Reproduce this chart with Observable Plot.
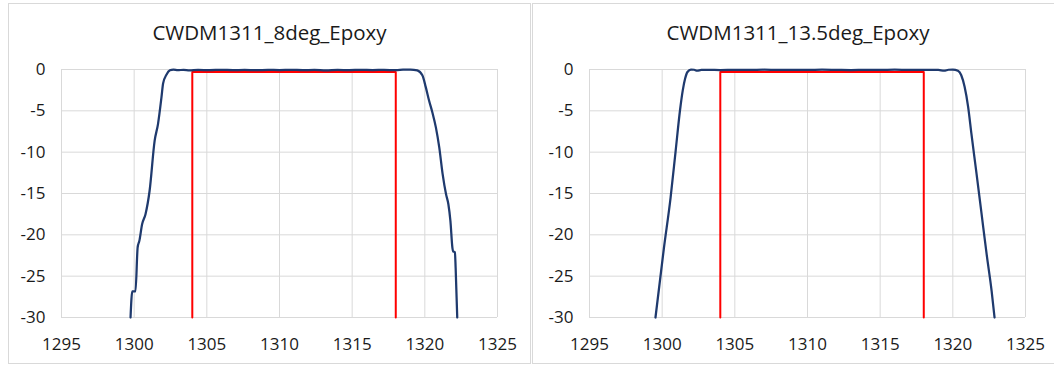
<!DOCTYPE html>
<html>
<head>
<meta charset="utf-8">
<script src="https://cdn.jsdelivr.net/npm/d3@7"></script>
<script src="https://cdn.jsdelivr.net/npm/@observablehq/plot@0.6"></script>
<style>
  html, body { margin: 0; padding: 0; background: #fff; }
  body { width: 1054px; height: 365px; position: relative; overflow: hidden; font-family: "Open Sans", "Liberation Sans", sans-serif; }
  .panel { position: absolute; top: 3px; height: 359px; border: 1px solid #d9d9d9; background: #fff; }
  .title { height: 32px; padding-top: 12px; line-height: 32px; text-align: center; font-size: 20.5px; color: #1a1a1a; white-space: nowrap; }
  .panel svg { display: block; }
</style>
</head>
<body>
<div id="p1" class="panel" style="left:8px; width:521px;"></div>
<div id="p2" class="panel" style="left:532px; width:530px;"></div>
<script>
// Chart titles
const titleA = "CWDM1311_8deg_Epoxy";
const titleB = "CWDM1311_13.5deg_Epoxy";

// Axis ticks
const xTicks = [1295, 1300, 1305, 1310, 1315, 1320, 1325];
const yTicks = [-30, -25, -20, -15, -10, -5, 0];

// 8 deg filter: wavelength (nm) and insertion loss (dB)
const wlA = [1299.75, 1299.87, 1300.09, 1300.24, 1300.36, 1300.55, 1300.78, 1301.06, 1301.41, 1301.64,
  1301.88, 1301.99, 1302.23, 1302.46, 1302.7, 1303.0, 1303.4, 1303.8, 1304.4, 1305.2,
  1306.0, 1306.8, 1307.6, 1308.4, 1309.2, 1310.0, 1310.8, 1311.6, 1312.4, 1313.2,
  1314.0, 1314.8, 1315.6, 1316.4, 1317.2, 1318.0, 1318.5, 1319.01, 1319.48, 1319.83,
  1320.06, 1320.29, 1320.52, 1320.76, 1320.99, 1321.22, 1321.46, 1321.62, 1321.76, 1321.9,
  1321.95, 1322.07, 1322.12, 1322.23];
const ilA = [-30, -26.85, -26.85, -21.5, -20.7, -18.7, -17.5, -14.7, -8.6, -6.6,
  -3.35, -1.7, -0.6, -0.1, 0, -0.08, -0.04, -0.1, -0.05, -0.08,
  -0.04, -0.08, -0.05, -0.09, -0.04, -0.07, -0.04, -0.08, -0.05, -0.1,
  -0.05, -0.08, -0.04, -0.07, -0.05, -0.08, -0.02, 0, -0.1, -0.7,
  -2.1, -3.75, -5.2, -7.0, -9.4, -12.6, -15.1, -16.3, -18.3, -21.6,
  -22.0, -22.1, -24.0, -30];

// 13.5 deg filter: wavelength (nm) and insertion loss (dB)
const wlB = [1299.54, 1300.12, 1300.58, 1300.93, 1301.23, 1301.42, 1301.58, 1301.74, 1301.98, 1302.2,
  1302.4, 1302.7, 1303.2, 1304.0, 1305.0, 1306.0, 1307.0, 1308.0, 1309.0, 1310.0,
  1311.0, 1312.0, 1313.0, 1314.0, 1315.0, 1316.0, 1317.0, 1318.0, 1319.0, 1319.4,
  1319.7, 1320.0, 1320.35, 1320.58, 1320.81, 1321.05, 1321.28, 1321.63, 1321.98, 1322.33,
  1322.67, 1322.87];
const ilB = [-30, -21.6, -15.5, -9.8, -4.9, -2.5, -1.1, -0.3, 0, -0.03,
  -0.15, -0.05, -0.04, -0.07, -0.04, -0.06, -0.03, -0.05, -0.04, -0.06,
  -0.03, -0.05, -0.07, -0.04, -0.05, -0.03, -0.06, -0.04, -0.05, -0.15,
  -0.03, 0, -0.15, -0.7, -2.1, -4.5, -7.8, -12.6, -17.5, -22.4,
  -26.8, -30];

// Pass-band mask (red)
const maskWl = [1304, 1304, 1318, 1318];
const maskIl = [-30, -0.3, -0.3, -30];

const plain = d => String(d);

function chart(wl, il, width, marginLeft, marginRight) {
  const curve = wl.map((x, i) => ({x, y: il[i]}));
  const mask = maskWl.map((x, i) => ({x, y: maskIl[i]}));
  return Plot.plot({
    width,
    height: 315,
    marginTop: 21,
    marginBottom: 46,
    marginLeft,
    marginRight,
    style: {fontFamily: "'Open Sans', 'Liberation Sans', sans-serif", fontSize: "17px", color: "#1a1a1a", background: "#fff"},
    x: {domain: [1295, 1325], label: null},
    y: {domain: [-30, 0], label: null},
    marks: [
      Plot.gridX(xTicks, {stroke: "#d9d9d9", strokeOpacity: 1, strokeWidth: 1}),
      Plot.gridY(yTicks, {stroke: "#d9d9d9", strokeOpacity: 1, strokeWidth: 1}),
      Plot.axisX({ticks: xTicks, tickFormat: plain, tickSize: 0, tickPadding: 20, fill: "#1a1a1a"}),
      Plot.axisY({ticks: yTicks, tickFormat: plain, tickSize: 0, tickPadding: 16, fill: "#1a1a1a"}),
      Plot.line(mask, {x: "x", y: "y", stroke: "#ff0000", strokeWidth: 2}),
      Plot.line(curve, {x: "x", y: "y", stroke: "#1f3a6e", strokeWidth: 2.25, curve: "monotone-x"})
    ]
  });
}

function panel(id, title, wl, il, width, marginLeft, marginRight) {
  const el = document.getElementById(id);
  const t = document.createElement("div");
  t.className = "title";
  t.textContent = title;
  el.appendChild(t);
  el.appendChild(chart(wl, il, width, marginLeft, marginRight));
}

panel("p1", titleA, wlA, ilA, 521, 52, 33);
panel("p2", titleB, wlB, ilB, 530, 56, 38);
</script>
</body>
</html>
